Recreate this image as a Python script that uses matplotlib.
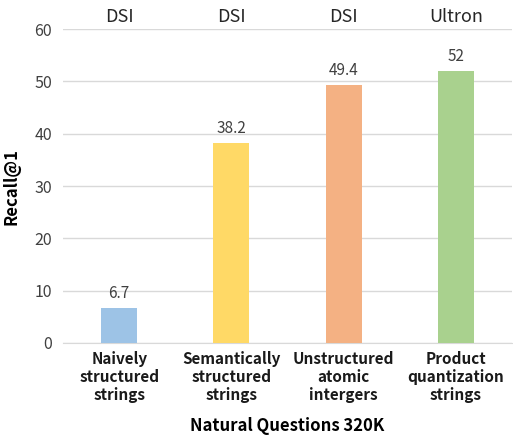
import matplotlib.pyplot as plt
import matplotlib.transforms as mtransforms

categories = ['Naively\nstructured\nstrings', 'Semantically\nstructured\nstrings',
              'Unstructured\natomic\nintergers', 'Product\nquantization\nstrings']
methods = ['DSI', 'DSI', 'DSI', 'Ultron']
recall = [6.7, 38.2, 49.4, 52]
colors = ['#9DC3E6', '#FFD966', '#F4B183', '#A9D18E']

plt.rcParams['font.family'] = ['Noto Sans CJK SC', 'DejaVu Sans']

fig = plt.figure(figsize=(5.13, 4.42), dpi=100)
ax = fig.add_axes([0.123, 0.224, 0.875, 0.71])

x = range(len(recall))
bars = ax.bar(x, recall, width=0.32, color=colors, zorder=3)
for xi, v in zip(x, recall):
    ax.text(xi, v + 1.1, '%g' % v, ha='center', va='bottom', fontsize=11, color='#404040')

trans = mtransforms.blended_transform_factory(ax.transData, ax.transAxes)
for xi, m in zip(x, methods):
    ax.text(xi, 1.04, m, ha='center', va='center', fontsize=13, color='#262626',
            transform=trans, clip_on=False)

ax.set_xlim(-0.5, 3.5)
ax.set_ylim(0, 60)
ax.set_yticks(range(0, 61, 10))
ax.grid(axis='y', color='#d9d9d9', lw=1, zorder=0)
for s in ['top', 'right', 'left']:
    ax.spines[s].set_visible(False)
ax.spines['bottom'].set_color('#d9d9d9')
ax.tick_params(length=0)
ax.tick_params(axis='y', labelsize=11.5, labelcolor='#404040', pad=8)
ax.set_xticks(list(x))
ax.set_xticklabels(categories, fontsize=11, fontweight='bold', color='#1a1a1a', linespacing=1.15)
ax.tick_params(axis='x', pad=6)
ax.set_xlabel('Natural Questions 320K', fontsize=12, fontweight='bold', labelpad=10)
ax.set_ylabel('Recall@1', fontsize=12, fontweight='bold', labelpad=10)

fig.savefig('out.png', dpi=100)
